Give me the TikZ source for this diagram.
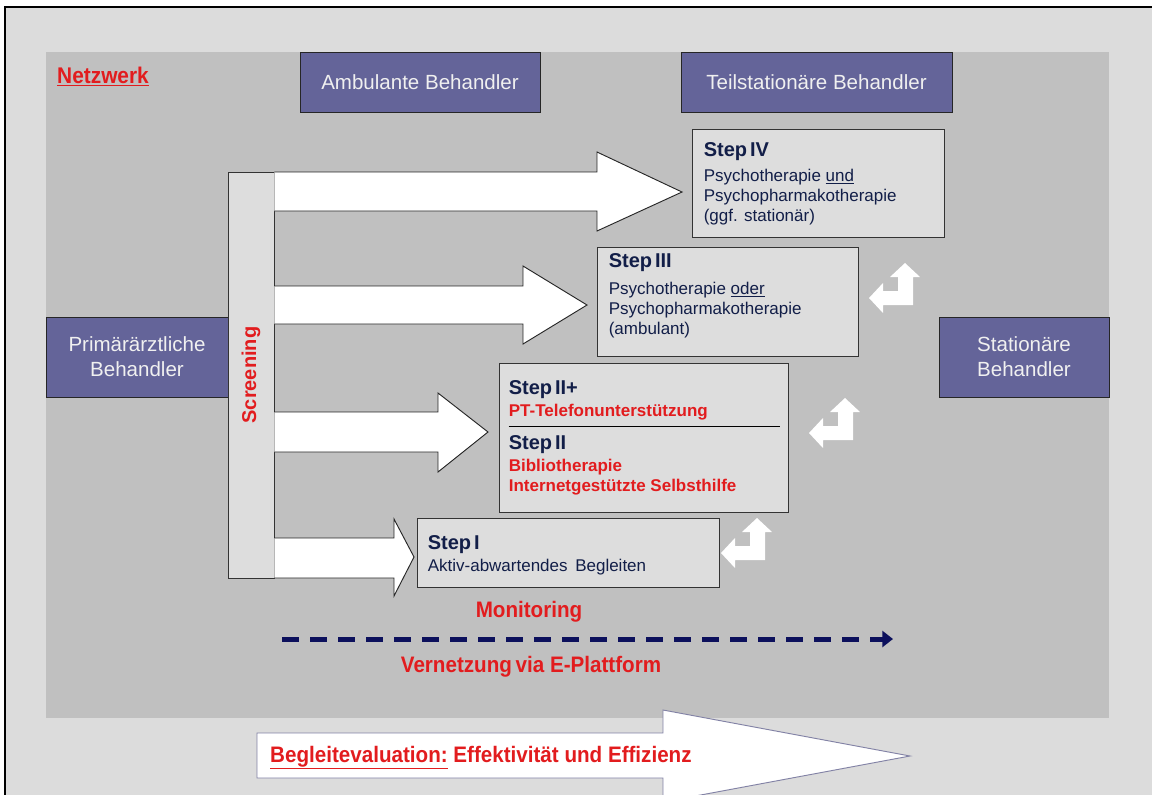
\documentclass[tikz,border=0pt]{standalone}
\usepackage{fontspec}
\setmainfont{Liberation Sans}
\usetikzlibrary{arrows.meta,calc}

\definecolor{pagegray}{RGB}{220,220,220}
\definecolor{panelgray}{RGB}{192,192,192}
\definecolor{boxgray}{RGB}{221,221,221}
\definecolor{actor}{RGB}{100,100,153}
\definecolor{navy}{RGB}{18,30,72}
\definecolor{alert}{RGB}{226,28,30}
\definecolor{dashnavy}{RGB}{12,16,92}
\definecolor{evaledge}{RGB}{130,130,165}

\tikzset{
  actorbox/.style={draw=black!85, line width=0.7pt, fill=actor, text=white!94!black,
    font=\fontsize{15.4}{18.75}\selectfont, align=center, inner sep=0pt},
  stepbox/.style={draw=black!80, line width=0.7pt, fill=boxgray, inner sep=0pt},
  blockarrow/.style={fill=white, draw=black!85, line width=0.7pt},
  steptitle/.style={anchor=base west, inner sep=0pt, text=navy,
    font=\bfseries\fontsize{15}{15}\selectfont},
  stepbody/.style={anchor=base west, inner sep=0pt, text=navy,
    font=\fontsize{12.75}{15}\selectfont},
  stepred/.style={anchor=base west, inner sep=0pt, text=alert,
    font=\bfseries\fontsize{12.75}{15}\selectfont},
  redlabel/.style={inner sep=0pt, text=alert, font=\bfseries\fontsize{16.8}{18}\selectfont, xscale=0.92},
  netarrow/.style={draw=dashnavy, line width=3.75pt, dash pattern=on 12.75pt off 8.25pt,
    -{Triangle[length=8pt,width=12pt]}},
  turnarrow/.pic={\fill[white] (0,0) -- (15,14) -- (8,14) -- (8,42) -- (-22,42) -- (-22,50)
    -- (-36,35) -- (-22,20) -- (-22,28) -- (-7,28) -- (-7,14) -- (-15,14) -- cycle;}
}

\newcommand{\tightsp}{\hspace{0.15em}}

\begin{document}
\begin{tikzpicture}[x=0.75pt,y=-0.75pt]
\useasboundingbox (0,0) rectangle (1152,794);
\clip (0,0) rectangle (1152,794);
\fill[white] (0,0) rectangle (1152,794);

% slide frame and network panel
\draw[fill=pagegray, line width=0.9pt] (5,7) rectangle (1175,815);
\fill[panelgray] (46,52) rectangle (1109,718);

\node[anchor=base west, inner sep=0pt, text=alert, xscale=0.92, font=\bfseries\fontsize{17}{18}\selectfont]
  (netz) at (57,83) {\underline{Netzwerk}};

% treating parties
\node[actorbox, minimum width=180pt, minimum height=45pt] (amb) at (420,82) {Ambulante Behandler};
\node[actorbox, minimum width=203.25pt, minimum height=45pt] (teil) at (816.5,82) {Teilstationäre Behandler};
\node[actorbox, minimum width=136.5pt, minimum height=60pt] (prim) at (137,357) {Primärärztliche\\Behandler};
\node[actorbox, minimum width=127.5pt, minimum height=60pt] (stat) at (1024,357) {Stationäre\\Behandler};

% screening column
\node[stepbox, minimum width=34.5pt, minimum height=304.5pt] (scr) at (251,375) {};

% block arrows from screening to the steps
\draw[blockarrow] (scr.east |- 0,172) -- (597,172) -- (597,152) -- (682,192) -- (597,231) -- (597,211) -- (scr.east |- 0,211);
\draw[blockarrow] (scr.east |- 0,286) -- (523,286) -- (523,266) -- (587,305) -- (523,344) -- (523,324) -- (scr.east |- 0,324);
\draw[blockarrow] (scr.east |- 0,412) -- (438,412) -- (438,393) -- (488,432) -- (438,472) -- (438,452) -- (scr.east |- 0,452);
\draw[blockarrow] (scr.east |- 0,538) -- (394,538) -- (394,519) -- (414,557) -- (394,596) -- (394,578) -- (scr.east |- 0,578);

\node[inner sep=0pt, text=alert, rotate=90, font=\bfseries\fontsize{15}{18}\selectfont] (scrtext) at (scr.center) {Screening};

% step boxes
\node[stepbox, minimum width=189pt, minimum height=81pt] (s4) at (818,183) {};
\node[stepbox, minimum width=195.75pt, minimum height=81.75pt] (s3) at (727.5,301.5) {};
\node[stepbox, minimum width=216.75pt, minimum height=111.75pt] (s2) at (643.5,437.5) {};
\node[stepbox, minimum width=226.5pt, minimum height=51.75pt] (s1) at (568,552.5) {};

\node[steptitle] (s4t) at ($(s4.north west)+(12,28)$) {Step\tightsp IV};
\node[stepbody] (s4b) at ($(s4.north west)+(12,53)$)
  {\vtop{\hbox{Psychotherapie \underline{und}}\hbox{Psychopharmakotherapie}\hbox{(ggf. stationär)}}};

\node[steptitle] (s3t) at ($(s3.north west)+(12,21)$) {Step\tightsp III};
\node[stepbody] (s3b) at ($(s3.north west)+(12,48)$)
  {\vtop{\hbox{Psychotherapie \underline{oder}}\hbox{Psychopharmakotherapie}\hbox{(ambulant)}}};

\node[steptitle] (s2pt) at ($(s2.north west)+(10,32)$) {Step\tightsp II+};
\node[stepred] (s2pb) at ($(s2.north west)+(10,54)$) {PT-Telefonunterstützung};
\draw[line width=0.7pt, black] ($(s2.north west)+(10,64)$) coordinate (divl) -- ($(s2.north west)+(281,64)$) coordinate (divr);
\node[steptitle] (s2t) at ($(s2.north west)+(10,87)$) {Step\tightsp II};
\node[stepred] (s2b) at ($(s2.north west)+(10,109)$)
  {\vtop{\hbox{Bibliotherapie}\hbox{Internetgestützte Selbsthilfe}}};

\node[steptitle] (s1t) at ($(s1.north west)+(11,32)$) {Step\tightsp I};
\node[stepbody] (s1b) at ($(s1.north west)+(11,54)$) {Aktiv-abwartendes\hspace{0.45em}Begleiten};

% stepping back and forth between the levels
\pic (t3) at (905,263) {turnarrow};
\pic (t2) at (845,398) {turnarrow};
\pic (t1) at (757,518) {turnarrow};

% monitoring via the e-platform
\node[redlabel, anchor=base] (mon) at (529,617) {Monitoring};
\coordinate (netstart) at (282,639);
\coordinate (netend) at (893,639);
\draw[netarrow] (netstart) -- (netend);
\node[redlabel, anchor=base] (vern) at (531,672) {Vernetzung\hspace{0.18em}via E-Plattform};

% accompanying evaluation
\draw[fill=white, draw=evaledge, line width=0.7pt] (257,733) -- (663,733) -- (663,710) -- (910,756) -- (663,802) -- (663,778) -- (257,778) -- cycle;
\node[redlabel, anchor=base west] (evaltext) at (270,762) {\underline{Begleitevaluation:} Effektivität und Effizienz};
\end{tikzpicture}
\end{document}
